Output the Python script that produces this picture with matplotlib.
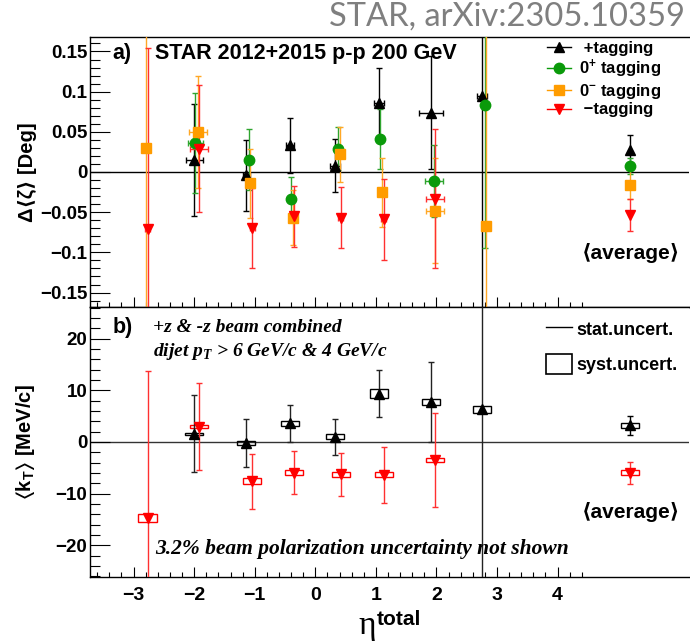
import matplotlib
matplotlib.use("Agg")
import matplotlib.pyplot as plt
import numpy as np
from matplotlib.lines import Line2D
from matplotlib.patches import Rectangle
from matplotlib.ticker import MultipleLocator, FixedLocator

plt.rcParams['mathtext.fontset'] = 'custom'
plt.rcParams['mathtext.rm'] = 'Liberation Sans:bold'
plt.rcParams['mathtext.bf'] = 'Liberation Sans:bold'
plt.rcParams['mathtext.it'] = 'Liberation Serif:italic:bold'
plt.rcParams['mathtext.default'] = 'bf'
plt.rcParams['mathtext.fallback'] = 'stixsans'

SANS = ['Liberation Sans', 'DejaVu Sans']
SERIF = ['Liberation Serif', 'DejaVu Serif']

# ---------------- data: panel a) Delta<zeta> [Deg] ----------------
eta_plus = [-2.00, -1.14, -0.42, 0.33, 1.05, 1.91, 2.75]
dz_plus = [0.015, -0.004, 0.033, 0.008, 0.086, 0.074, 0.094]
dz_plus_err = [0.070, 0.044, 0.034, 0.033, 0.043, 0.070, 0.30]
eta_plus_err = [0.14, 0.06, 0.07, 0.08, 0.08, 0.20, 0.08]

eta_zp = [-1.98, -1.10, -0.40, 0.37, 1.07, 1.96, 2.81]
dz_zp = [0.036, 0.015, -0.034, 0.029, 0.041, -0.011, 0.083]
dz_zp_err = [0.062, 0.038, 0.028, 0.027, 0.037, 0.045, 0.178]
eta_zp_err = [0.12, 0.04, 0.04, 0.04, 0.04, 0.15, 0.04]

eta_zm = [-2.80, -1.94, -1.08, -0.37, 0.41, 1.10, 1.97, 2.82]
dz_zm = [0.030, 0.050, -0.014, -0.057, 0.022, -0.025, -0.048, -0.067]
dz_zm_err = [0.30, 0.070, 0.043, 0.034, 0.034, 0.043, 0.065, 0.30]
eta_zm_err = [0.04, 0.15, 0.04, 0.04, 0.04, 0.04, 0.15, 0.04]

eta_minus = [-2.77, -1.92, -1.04, -0.35, 0.42, 1.13, 1.98]
dz_minus = [-0.071, 0.029, -0.070, -0.055, -0.057, -0.059, -0.033]
dz_minus_err = [0.225, 0.079, 0.050, 0.038, 0.038, 0.050, 0.087]
eta_minus_err = [0.04, 0.15, 0.04, 0.04, 0.04, 0.04, 0.15]

eta_avg = 5.2
avg_dz = {'plus': (0.028, 0.018), 'zp': (0.008, 0.010),
          'zm': (-0.016, 0.018), 'minus': (-0.054, 0.020)}

# ---------------- data: panel b) <k_T> [MeV/c] ----------------
kt_plus = [1.6, -0.2, 3.6, 1.0, 9.35, 7.75, 6.3]
kt_plus_stat = [7.4, 4.7, 3.6, 3.5, 4.55, 7.75, 35.0]
kt_plus_syst = [0.2, 0.32, 0.45, 0.48, 0.8, 0.65, 0.65]
kt_minus = [-14.7, 2.95, -7.6, -5.95, -6.25, -6.35, -3.45]
kt_minus_stat = [28.5, 8.45, 5.3, 4.15, 4.15, 5.45, 9.15]
kt_minus_syst = [0.7, 0.32, 0.55, 0.48, 0.48, 0.5, 0.45]
avg_kt_plus = (3.2, 1.8, 0.4)
avg_kt_minus = (-5.95, 2.15, 0.48)

xticks = [-3, -2, -1, 0, 1, 2, 3, 4]
xticklabels = ['\u22123', '\u22122', '\u22121', '0', '1', '2', '3', '4']
yticks_a = [-0.15, -0.1, -0.05, 0, 0.05, 0.1, 0.15]
yticklabels_a = ['\u22120.15', '\u22120.1', '\u22120.05', '0', '0.05', '0.1', '0.15']
yticks_b = [-20, -10, 0, 10, 20]
yticklabels_b = ['\u221220', '\u221210', '0', '10', '20']

BLACK = '#000000'
GREEN = '#0a9a0a'
ORANGE = '#ff9c00'
RED = '#ff0000'

fig = plt.figure(figsize=(6.9, 6.44), dpi=100)
L, R = 90 / 690, 689 / 690
ax_a = fig.add_axes([L, 1 - 307 / 644, R - L, 270 / 644])
ax_b = fig.add_axes([L, 1 - 577 / 644, R - L, 270 / 644])

XLIM = (-3.72, 6.17)

for ax in (ax_a, ax_b):
    ax.set_xlim(*XLIM)
    ax.set_xticks(xticks)
    ax.xaxis.set_minor_locator(FixedLocator(np.round(np.arange(-3.6, 4.41, 0.2), 2)))
    ax.tick_params(axis='both', which='both', direction='in', top=False, right=False)
    ax.tick_params(axis='x', which='major', length=7.2, width=0.8)
    ax.tick_params(axis='x', which='minor', length=3.6, width=0.8)
    ax.tick_params(axis='y', which='major', length=14.4, width=0.8, pad=2)
    ax.tick_params(axis='y', which='minor', length=7.2, width=0.8)
    ax.spines['right'].set_visible(False)
    for s in ('left', 'bottom', 'top'):
        ax.spines[s].set_linewidth(1.0)

ekw = dict(elinewidth=1.0, capsize=2.0, capthick=1.0, linestyle='none')

# ---------------- panel a ----------------
ax_a.set_ylim(-0.168, 0.168)
ax_a.set_yticks(yticks_a, yticklabels_a, fontsize=13.5, fontweight='bold', family=SANS)
ax_a.yaxis.set_minor_locator(MultipleLocator(0.01))
ax_a.set_xticklabels([])
ax_a.axhline(0, color='black', lw=1.0, zorder=1)

ax_a.errorbar(eta_plus, dz_plus, yerr=dz_plus_err, xerr=eta_plus_err, fmt='^',
              color=BLACK, ms=7.5, zorder=3, **ekw)
ax_a.errorbar(eta_zp, dz_zp, yerr=dz_zp_err, xerr=eta_zp_err, fmt='o',
              color=GREEN, ecolor='#2fa52f', ms=7.5, zorder=3, **ekw)
ax_a.errorbar(eta_zm, dz_zm, yerr=dz_zm_err, xerr=eta_zm_err, fmt='s',
              color=ORANGE, ecolor='#ffa826', ms=7.2, zorder=3, **ekw)
ax_a.errorbar(eta_minus, dz_minus, yerr=dz_minus_err, xerr=eta_minus_err, fmt='v',
              color=RED, ecolor='#ff3030', ms=7.5, zorder=3, **ekw)

for key, mk, col, ecol in (('plus', '^', BLACK, BLACK), ('zp', 'o', GREEN, '#2fa52f'),
                           ('zm', 's', ORANGE, '#ffa826'), ('minus', 'v', RED, '#ff3030')):
    v, e = avg_dz[key]
    ax_a.errorbar([eta_avg], [v], yerr=[e], fmt=mk, color=col, ecolor=ecol,
                  ms=7.5 if mk != 's' else 7.2, zorder=3, **ekw)

handles = [
    Line2D([], [], color=BLACK, marker='^', ms=7.5, lw=1.0),
    Line2D([], [], color=GREEN, marker='o', ms=7.5, lw=1.0),
    Line2D([], [], color=ORANGE, marker='s', ms=7.2, lw=1.0),
    Line2D([], [], color=RED, marker='v', ms=7.5, lw=1.0),
]
labels = [' +tagging', '0$^{+}$ tagging', '0$^{-}$ tagging', ' \u2212tagging']
ax_a.legend(handles, labels, loc='upper left', bbox_to_anchor=(0.755, 1.003),
            frameon=False, prop={'family': SANS, 'weight': 'bold', 'size': 12},
            handlelength=1.4, handletextpad=0.5, labelspacing=0.1,
            borderaxespad=0.0, borderpad=0.3)

ax_a.text(0.038, 0.94, 'a)', transform=ax_a.transAxes, fontsize=15.5,
          fontweight='bold', family=SANS, va='center', ha='left')
ax_a.text(0.109, 0.94, 'STAR 2012+2015 p-p 200 GeV', transform=ax_a.transAxes,
          fontsize=15.5, fontweight='bold', family=SANS, va='center', ha='left')
ax_a.text(0.985, 0.200, '\u27e8average\u27e9', transform=ax_a.transAxes, fontsize=15,
          fontweight='bold', family=SANS, va='center', ha='right')

ax_a.set_ylabel('\u0394\u27e8\u03b6\u27e9 [Deg]', fontsize=14.5, fontweight='bold',
                family=SANS)
ax_a.yaxis.set_label_coords(-0.088, 0.5)

# ---------------- panel b ----------------
ax_b.set_ylim(-26.1, 26.1)
ax_b.set_yticks(yticks_b, yticklabels_b, fontsize=13.5, fontweight='bold', family=SANS)
ax_b.yaxis.set_minor_locator(MultipleLocator(2))
ax_b.set_xticks(xticks, xticklabels, fontsize=14, fontweight='bold', family=SANS)
ax_b.tick_params(axis='x', pad=7)
ax_b.axhline(0, color='#333333', lw=1.0, zorder=1)

BOX_HW = 0.15
ax_b.bar(eta_plus, [2 * s for s in kt_plus_syst],
         bottom=[v - s for v, s in zip(kt_plus, kt_plus_syst)],
         width=2 * BOX_HW, fill=False, edgecolor=BLACK, lw=1.0, zorder=2)
ax_b.bar(eta_minus, [2 * s for s in kt_minus_syst],
         bottom=[v - s for v, s in zip(kt_minus, kt_minus_syst)],
         width=2 * BOX_HW, fill=False, edgecolor=RED, lw=1.0, zorder=2)
ax_b.bar([eta_avg], [2 * avg_kt_plus[2]], bottom=[avg_kt_plus[0] - avg_kt_plus[2]],
         width=2 * BOX_HW, fill=False, edgecolor=BLACK, lw=1.0, zorder=2)
ax_b.bar([eta_avg], [2 * avg_kt_minus[2]], bottom=[avg_kt_minus[0] - avg_kt_minus[2]],
         width=2 * BOX_HW, fill=False, edgecolor=RED, lw=1.0, zorder=2)

ax_b.errorbar(eta_plus, kt_plus, yerr=kt_plus_stat, fmt='^', color=BLACK,
              ecolor='#222222', ms=7.5, zorder=3, **ekw)
ax_b.errorbar(eta_minus, kt_minus, yerr=kt_minus_stat, fmt='v', color=RED,
              ecolor='#ff3030', ms=7.5, zorder=3, **ekw)
ax_b.errorbar([eta_avg], [avg_kt_plus[0]], yerr=[avg_kt_plus[1]], fmt='^', color=BLACK,
              ms=7.5, zorder=3, **ekw)
ax_b.errorbar([eta_avg], [avg_kt_minus[0]], yerr=[avg_kt_minus[1]], fmt='v', color=RED,
              ecolor='#ff3030', ms=7.5, zorder=3, **ekw)

hb = [Line2D([], [], color='black', lw=1.0),
      Rectangle((0, 0), 1, 1, fill=False, edgecolor='black', lw=1.2)]
ax_b.legend(hb, ['stat.uncert.', 'syst.uncert.'], loc='upper left',
            bbox_to_anchor=(0.753, 0.975), frameon=False,
            prop={'family': SANS, 'weight': 'bold', 'size': 13},
            handlelength=1.4, handleheight=1.3, handletextpad=0.25,
            labelspacing=0.85, borderaxespad=0.0, borderpad=0.3)

ax_b.text(0.038, 0.925, 'b)', transform=ax_b.transAxes, fontsize=15.5,
          fontweight='bold', family=SANS, va='center', ha='left')
ax_b.text(0.105, 0.925, '+z & -z beam combined', transform=ax_b.transAxes,
          fontsize=14, fontweight='bold', fontstyle='italic', family=SERIF,
          va='center', ha='left')
ax_b.text(0.105, 0.835, 'dijet p$_{\\mathit{T}}$ > 6 GeV/c & 4 GeV/c',
          transform=ax_b.transAxes, fontsize=14, fontweight='bold',
          fontstyle='italic', family=SERIF, va='center', ha='left')
ax_b.text(0.108, 0.102, '3.2% beam polarization uncertainty not shown',
          transform=ax_b.transAxes, fontsize=15.5, fontweight='bold',
          fontstyle='italic', family=SERIF, va='center', ha='left')
ax_b.text(0.985, 0.240, '\u27e8average\u27e9', transform=ax_b.transAxes, fontsize=15,
          fontweight='bold', family=SANS, va='center', ha='right')

ax_b.set_ylabel('$\\langle$k$_{T}$$\\rangle$ [MeV/c]', fontsize=14.5,
                fontweight='bold', family=SANS)
ax_b.yaxis.set_label_coords(-0.088, 0.5)

# x-axis title: eta^total
fig.text(358 / 690, 1 - 634 / 644, '\u03b7', fontsize=24, family=SERIF,
         ha='left', va='baseline')
fig.text(377 / 690, 1 - 625 / 644, 'total', fontsize=15, fontweight='bold',
         family=SANS, ha='left', va='baseline')

fig.text(0.993, 0.975, 'STAR, arXiv:2305.10359', ha='right', va='center',
         color='#7f7f7f', fontsize=23.5, family=['Lato', 'DejaVu Sans'])

fig.savefig('out.png', dpi=100)
